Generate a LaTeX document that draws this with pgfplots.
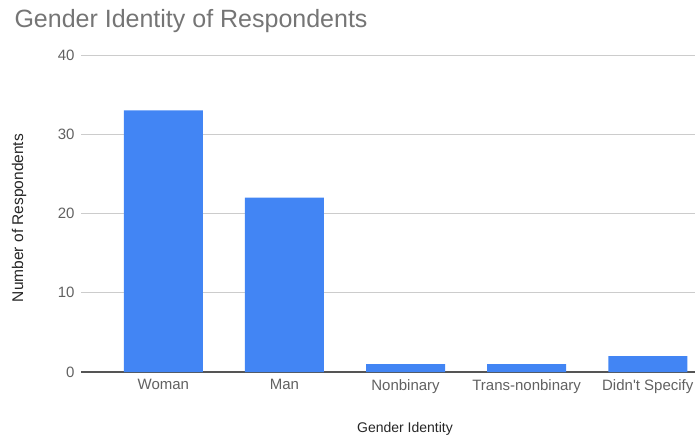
\documentclass[border=0pt]{standalone}
\usepackage{fontspec}
\setmainfont{Liberation Sans}
\usepackage{pgfplots}
\pgfplotsset{compat=1.18}
\definecolor{barblue}{HTML}{4285F4}
\definecolor{ticktext}{HTML}{616161}
\definecolor{titletext}{HTML}{757575}
\definecolor{gridgrey}{HTML}{CCCCCC}
\definecolor{baseline}{HTML}{555555}

\begin{document}
\begin{tikzpicture}[x=1pt,y=1pt]
\useasboundingbox (0,0) rectangle (695,436);
\begin{axis}[
    at={(81pt,64pt)}, anchor=south west,
    scale only axis, width=614pt, height=317pt,
    ybar, bar width=79pt,
    xmin=-0.68, xmax=4.39,
    ymin=0, ymax=40,
    ytick={0,10,20,30,40},
    xtick=data,
    xticklabels={Woman,Man,Nonbinary,Trans-nonbinary,Didn\textquotesingle t Specify},
    axis x line*=bottom, axis y line*=left,
    x axis line style={draw=baseline, line width=1.3pt, -},
    y axis line style={draw=none},
    major tick length=0pt,
    ymajorgrids, grid style={draw=gridgrey, line width=0.9pt},
    /pgf/number format/assume math mode=true,
    tick label style={font=\fontsize{15}{17}\selectfont, text=ticktext},
    yticklabel style={xshift=-3pt},
    xticklabel style={yshift=-4pt},
]
\addplot[fill=barblue, draw=none] coordinates {(0,33) (1,22) (2,1) (3,1) (4,2)};
\end{axis}
\node[anchor=base west, text=titletext, font=\fontsize{25}{29}\selectfont] at (11,408) {Gender Identity of Respondents};
\node[anchor=base, rotate=90, font=\fontsize{15.5}{18}\selectfont, text=black!85] at (23,218) {Number of Respondents};
\node[anchor=base, font=\fontsize{14}{16}\selectfont, text=black!85] at (405,4) {Gender Identity};
\end{tikzpicture}
\end{document}
